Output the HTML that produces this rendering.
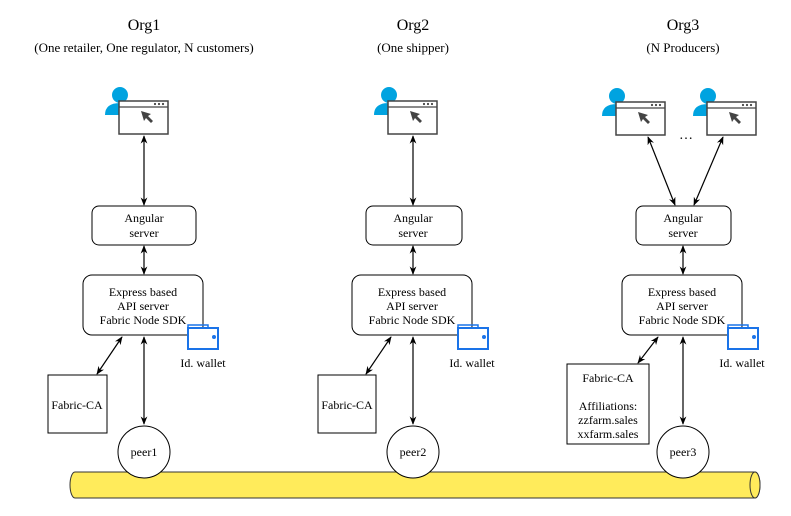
<!DOCTYPE html>
<html><head><meta charset="utf-8"><style>
html,body{margin:0;padding:0;background:#fff}
svg{display:block;font-family:"Liberation Serif",serif}
</style></head><body>
<svg width="791" height="516" viewBox="0 0 791 516" xmlns="http://www.w3.org/2000/svg">
<defs>
<marker id="a" viewBox="0 0 10 10" refX="9" refY="5" markerWidth="7" markerHeight="7" orient="auto-start-reverse"><path d="M0,1 L10,5 L0,9 L3,5 z" fill="#000"/></marker>
<g id="user">
  <circle cx="0" cy="0" r="8" fill="#00a3e0"/>
  <path d="M-15,20 Q-15,8 0,8 Q15,8 15,20 Z" fill="#00a3e0"/>
  <rect x="-1" y="6" width="49" height="33" fill="#fff" stroke="#444" stroke-width="1.5"/>
  <line x1="-1" y1="12" x2="48" y2="12" stroke="#444" stroke-width="1.3"/>
  <circle cx="35" cy="9" r="1.1" fill="#444"/><circle cx="39" cy="9" r="1.1" fill="#444"/><circle cx="43" cy="9" r="1.1" fill="#444"/>
  <path d="M21,16 L31,19 L28,21 L33,26 L31,28 L26,23 L24,26 Z" fill="#444"/>
</g>
<g id="wallet">
  <path d="M0,2 L20,2 L20,0 L0,0 Z" fill="none"/>
  <rect x="0" y="3" width="30" height="21" fill="#fff" stroke="#1a73e8" stroke-width="2"/>
  <path d="M0,3 L0,0 L20,0 L20,3" fill="none" stroke="#1a73e8" stroke-width="1.5"/>
  <circle cx="26" cy="12" r="2" fill="#1a73e8"/>
</g>
</defs>

<g font-size="16" text-anchor="middle">
<text x="144" y="30">Org1</text><text x="413" y="30">Org2</text><text x="683" y="30">Org3</text>
</g>
<g font-size="13" text-anchor="middle">
<text x="144" y="52">(One retailer, One regulator, N customers)</text>
<text x="413" y="52">(One shipper)</text>
<text x="683" y="52">(N Producers)</text>
</g>

<!-- users -->
<use href="#user" x="120" y="95"/>
<use href="#user" x="389" y="95"/>
<use href="#user" x="617" y="96"/>
<use href="#user" x="708" y="96"/>
<text x="686" y="139" font-size="14" text-anchor="middle">…</text>

<g fill="none" stroke="#000" stroke-width="1.2" marker-start="url(#a)" marker-end="url(#a)">
<line x1="144" y1="136" x2="144" y2="205"/>
<line x1="413" y1="136" x2="413" y2="205"/>
<line x1="648" y1="137" x2="675" y2="205"/>
<line x1="723" y1="137" x2="694" y2="205"/>
<line x1="144" y1="246" x2="144" y2="274"/>
<line x1="413" y1="246" x2="413" y2="274"/>
<line x1="683" y1="246" x2="683" y2="274"/>
<line x1="144" y1="337" x2="144" y2="424"/>
<line x1="413" y1="337" x2="413" y2="424"/>
<line x1="683" y1="337" x2="683" y2="424"/>
<line x1="122" y1="337" x2="97" y2="374"/>
<line x1="391" y1="337" x2="366" y2="374"/>
<line x1="658" y1="337" x2="638" y2="363"/>
</g>

<!-- angular -->
<g fill="#fff" stroke="#000" stroke-width="1">
<rect x="92" y="206" width="104" height="39" rx="7"/>
<rect x="366" y="206" width="96" height="39" rx="7"/>
<rect x="636" y="206" width="95" height="39" rx="7"/>
<rect x="83" y="275" width="120" height="60" rx="9"/>
<rect x="352" y="275" width="120" height="60" rx="9"/>
<rect x="622" y="275" width="120" height="60" rx="9"/>
<rect x="48" y="375" width="59" height="58"/>
<rect x="318" y="375" width="58" height="58"/>
<rect x="567" y="364" width="82" height="80"/>
</g>
<g font-size="12" text-anchor="middle">
<text x="144" y="222">Angular</text><text x="144" y="237">server</text>
<text x="413" y="222">Angular</text><text x="413" y="237">server</text>
<text x="683" y="222">Angular</text><text x="683" y="237">server</text>
<text x="143" y="296">Express based</text><text x="143" y="310">API server</text><text x="143" y="324">Fabric Node SDK</text>
<text x="412" y="296">Express based</text><text x="412" y="310">API server</text><text x="412" y="324">Fabric Node SDK</text>
<text x="682" y="296">Express based</text><text x="682" y="310">API server</text><text x="682" y="324">Fabric Node SDK</text>
<text x="77" y="409">Fabric-CA</text>
<text x="347" y="409">Fabric-CA</text>
<text x="608" y="382">Fabric-CA</text>
<text x="608" y="410">Affiliations:</text>
<text x="608" y="424">zzfarm.sales</text>
<text x="608" y="438">xxfarm.sales</text>
<text x="203" y="367">Id. wallet</text>
<text x="472" y="367">Id. wallet</text>
<text x="742" y="367">Id. wallet</text>
</g>
<use href="#wallet" x="188" y="325"/>
<use href="#wallet" x="458" y="325"/>
<use href="#wallet" x="728" y="325"/>

<!-- cylinder -->
<path d="M75,472 L755,472 A5,13 0 0 1 755,498 L75,498 A5,13 0 0 1 75,472 Z" fill="#ffeb5b" stroke="#333" stroke-width="1"/>
<ellipse cx="755" cy="485" rx="5" ry="13" fill="#ffeb5b" stroke="#333" stroke-width="1"/>

<!-- peers -->
<g fill="#fff" stroke="#000" stroke-width="1">
<circle cx="144" cy="452" r="26"/>
<circle cx="413" cy="452" r="26"/>
<circle cx="683" cy="452" r="26"/>
</g>
<g font-size="12" text-anchor="middle">
<text x="144" y="456">peer1</text><text x="413" y="456">peer2</text><text x="683" y="456">peer3</text>
</g>
</svg>
</body></html>
